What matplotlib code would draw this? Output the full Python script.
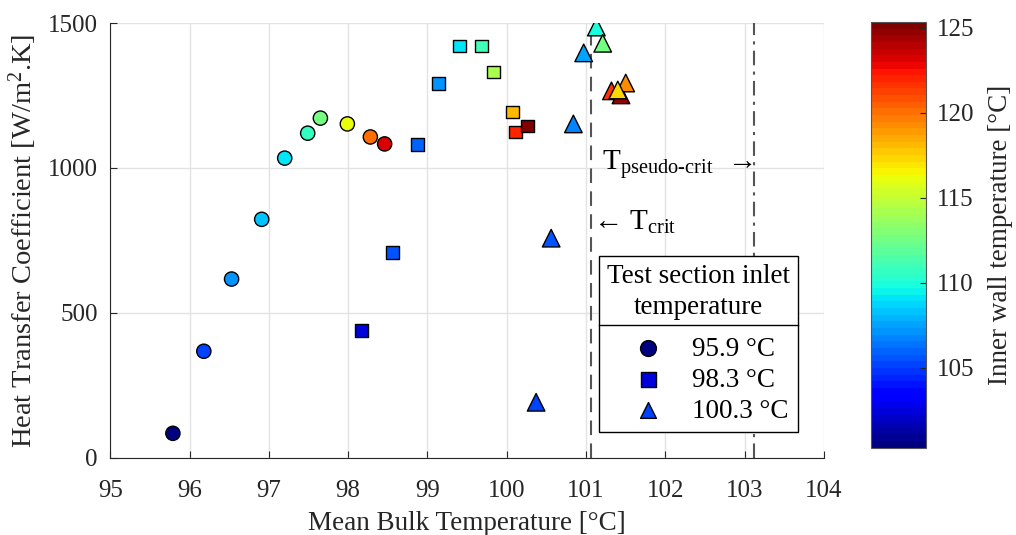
import matplotlib
matplotlib.use("Agg")
import matplotlib.pyplot as plt
from matplotlib.lines import Line2D
import numpy as np

plt.rcParams['font.family'] = ['Liberation Serif', 'DejaVu Serif']
plt.rcParams['mathtext.fontset'] = 'custom'
plt.rcParams['mathtext.rm'] = 'Liberation Serif'
plt.rcParams['mathtext.default'] = 'regular'

# inlet 95.9 C (circles)
t_bulk_1 = [95.79, 96.18, 96.53, 96.91, 97.20, 97.49, 97.65, 97.99, 98.28, 98.46]
htc_1 = [85, 368, 617, 823, 1034, 1120, 1172, 1152, 1107, 1083]
t_wall_1 = [100.4, 105.3, 107.2, 108.4, 109.1, 110.8, 112.8, 116.0, 120.1, 123.1]

# inlet 98.3 C (squares)
t_bulk_2 = [98.17, 98.56, 98.87, 99.14, 99.40, 99.68, 99.83, 100.07, 100.11, 100.26]
htc_2 = [440, 709, 1080, 1290, 1421, 1421, 1331, 1193, 1124, 1145]
t_wall_2 = [102.6, 105.4, 105.8, 107.3, 109.0, 111.2, 114.3, 118.1, 122.2, 125.3]

# inlet 100.3 C (triangles)
t_bulk_3 = [100.37, 100.56, 100.84, 100.97, 101.13, 101.21, 101.32, 101.44, 101.50, 101.40]
htc_3 = [192, 758, 1152, 1397, 1486, 1430, 1266, 1252, 1293, 1269]
t_wall_3 = [105.0, 105.4, 106.9, 107.7, 109.8, 112.8, 121.6, 124.6, 119.1, 117.3]

inlet_labels = ['95.9 °C', '98.3 °C', '100.3 °C']
t_crit = 101.06
t_pseudo = 103.12
clim = (100.3, 125.35)

cmap = plt.get_cmap('jet', 64)

fig = plt.figure(figsize=(10.16, 5.35), dpi=100)
ax = fig.add_axes([0.1085, 0.144, 0.7025, 0.813])
cax = fig.add_axes([0.857, 0.163, 0.054, 0.796])

ax.grid(True, color='#e3e3e3', linewidth=1)
ax.set_axisbelow(True)

ax.axvline(t_crit, color='#555555', linestyle=(0, (7, 4)), linewidth=1.5, zorder=1)
ax.axvline(t_pseudo, color='#555555', linestyle=(0, (7, 3, 1.5, 3)), linewidth=1.5, zorder=1)

kw = dict(cmap=cmap, vmin=clim[0], vmax=clim[1], edgecolors='black', linewidths=1, zorder=3)
s1 = ax.scatter(t_bulk_1, htc_1, c=t_wall_1, marker='o', s=105, label=inlet_labels[0], **kw)
s2 = ax.scatter(t_bulk_2, htc_2, c=t_wall_2, marker='s', s=85, label=inlet_labels[1], **kw)
s3 = ax.scatter(t_bulk_3, htc_3, c=t_wall_3, marker='^', s=160, label=inlet_labels[2], **kw)

ax.set_xlim(95, 104)
ax.set_ylim(0, 1500)
ax.set_xticks(np.arange(95, 105, 1))
ax.set_yticks([0, 500, 1000, 1500])
ax.tick_params(direction='in', length=5, labelsize=18, colors='#262626')
ax.tick_params(axis='x', pad=16)
ax.tick_params(axis='y', pad=9)
for sp in ['top', 'right']:
    ax.spines[sp].set_visible(False)
for sp in ['left', 'bottom']:
    ax.spines[sp].set_color('#262626')
ax.set_xlabel('Mean Bulk Temperature [°C]', fontsize=19.5, color='#262626', labelpad=6)
ax.set_ylabel('Heat Transfer Coefficient [W/m$^2$.K]', fontsize=20.5, color='#262626', labelpad=6)

ax.text(101.09, 814, '← T$_{crit}$', fontsize=21, va='center', ha='left', color='black')
ax.text(103.09, 1012, 'T$_{pseudo\\text{-}crit}$  →', fontsize=21, va='center', ha='right', color='black')

leg = ax.legend(handles=[s1, s2, s3], title='Test section inlet\ntemperature',
                loc='upper left', bbox_to_anchor=(0.685, 0.464), borderaxespad=0,
                fontsize=19.5, title_fontsize=19.5, fancybox=False, framealpha=1,
                edgecolor='black', handletextpad=0.15, labelspacing=0.22,
                borderpad=0.3, handlelength=2.9, alignment='center')
leg.get_title().set_multialignment('center')
leg.get_title().set_linespacing(1.3)
leg.get_frame().set_linewidth(1)
leg.set_zorder(5)
leg._legend_box.sep = 12
for h in leg.legend_handles:
    h.set_sizes([130])

cb = fig.colorbar(s1, cax=cax)
cb.set_ticks([105, 110, 115, 120, 125])
cb.ax.tick_params(direction='in', length=4, labelsize=18, colors='#262626', pad=8)
cb.outline.set_edgecolor('#555555')
cb.outline.set_linewidth(0.8)
cb.set_label('Inner wall temperature [°C]', fontsize=19.5, color='#262626', labelpad=10)

# separator between legend title and entries
fig.canvas.draw()
r = fig.canvas.get_renderer()
lb = leg.get_window_extent(r)
tb = leg.get_title().get_window_extent(r)
y_sep = (tb.y0 - 5) / fig.bbox.height
fig.add_artist(Line2D([lb.x0 / fig.bbox.width, lb.x1 / fig.bbox.width], [y_sep, y_sep],
                      transform=fig.transFigure, color='black', linewidth=1, zorder=10))

fig.savefig('out.png', dpi=100)
